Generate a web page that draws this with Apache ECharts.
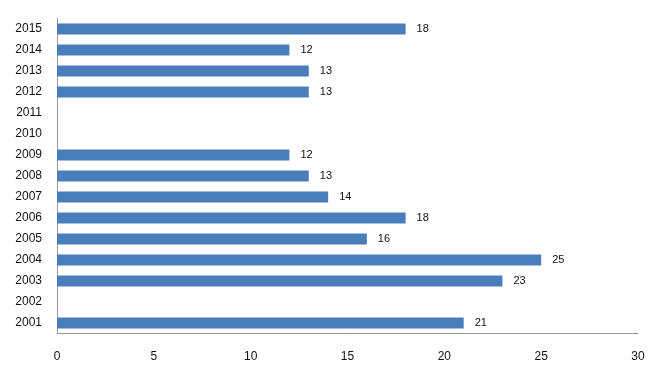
<!DOCTYPE html>
<html>
<head>
<meta charset="utf-8">
<script src="https://cdn.jsdelivr.net/npm/echarts@6/dist/echarts.min.js"></script>
<style>
	html, body { margin: 0; padding: 0; background: #fff; }
	#chart { width: 660px; height: 377px; }
</style>
</head>
<body>
<div id="chart"></div>
<script>
// years, bottom to top
var years = ['2001', '2002', '2003', '2004', '2005', '2006', '2007', '2008',
	'2009', '2010', '2011', '2012', '2013', '2014', '2015'];
// null = no bar for that year
var counts = [21, null, 23, 25, 16, 18, 14, 13, 12, null, null, 13, 13, 12, 18];
var xTicks = [0, 5, 10, 15, 20, 25, 30];

var chartObj = echarts.init(document.getElementById('chart'));

var option = {
	animation: false,
	grid: {
		left: 57,
		right: 22,
		top: 18.5,
		bottom: 43.5
	},
	xAxis: {
		type: 'value',
		min: xTicks[0],
		max: xTicks[xTicks.length - 1],
		interval: 5,
		axisLine: { show: true, lineStyle: { color: '#9a9a9a', width: 1 } },
		axisTick: { show: false },
		splitLine: { show: false },
		axisLabel: {
			color: '#111',
			fontFamily: 'Liberation Sans',
			fontSize: 12,
			margin: 17
		}
	},
	yAxis: {
		type: 'category',
		data: years,
		axisLine: { show: true, lineStyle: { color: '#9a9a9a', width: 1 } },
		axisTick: { show: false },
		axisLabel: {
			color: '#111',
			fontFamily: 'Liberation Sans',
			fontSize: 12,
			margin: 15
		}
	},
	series: [
		{
			type: 'bar',
			data: counts,
			barWidth: 11,
			itemStyle: { color: '#4a7ebb' },
			label: {
				show: true,
				position: 'right',
				distance: 11,
				color: '#111',
				fontFamily: 'Liberation Sans',
				fontSize: 11
			}
		}
	]
};
chartObj.setOption(option);
</script>
</body>
</html>
